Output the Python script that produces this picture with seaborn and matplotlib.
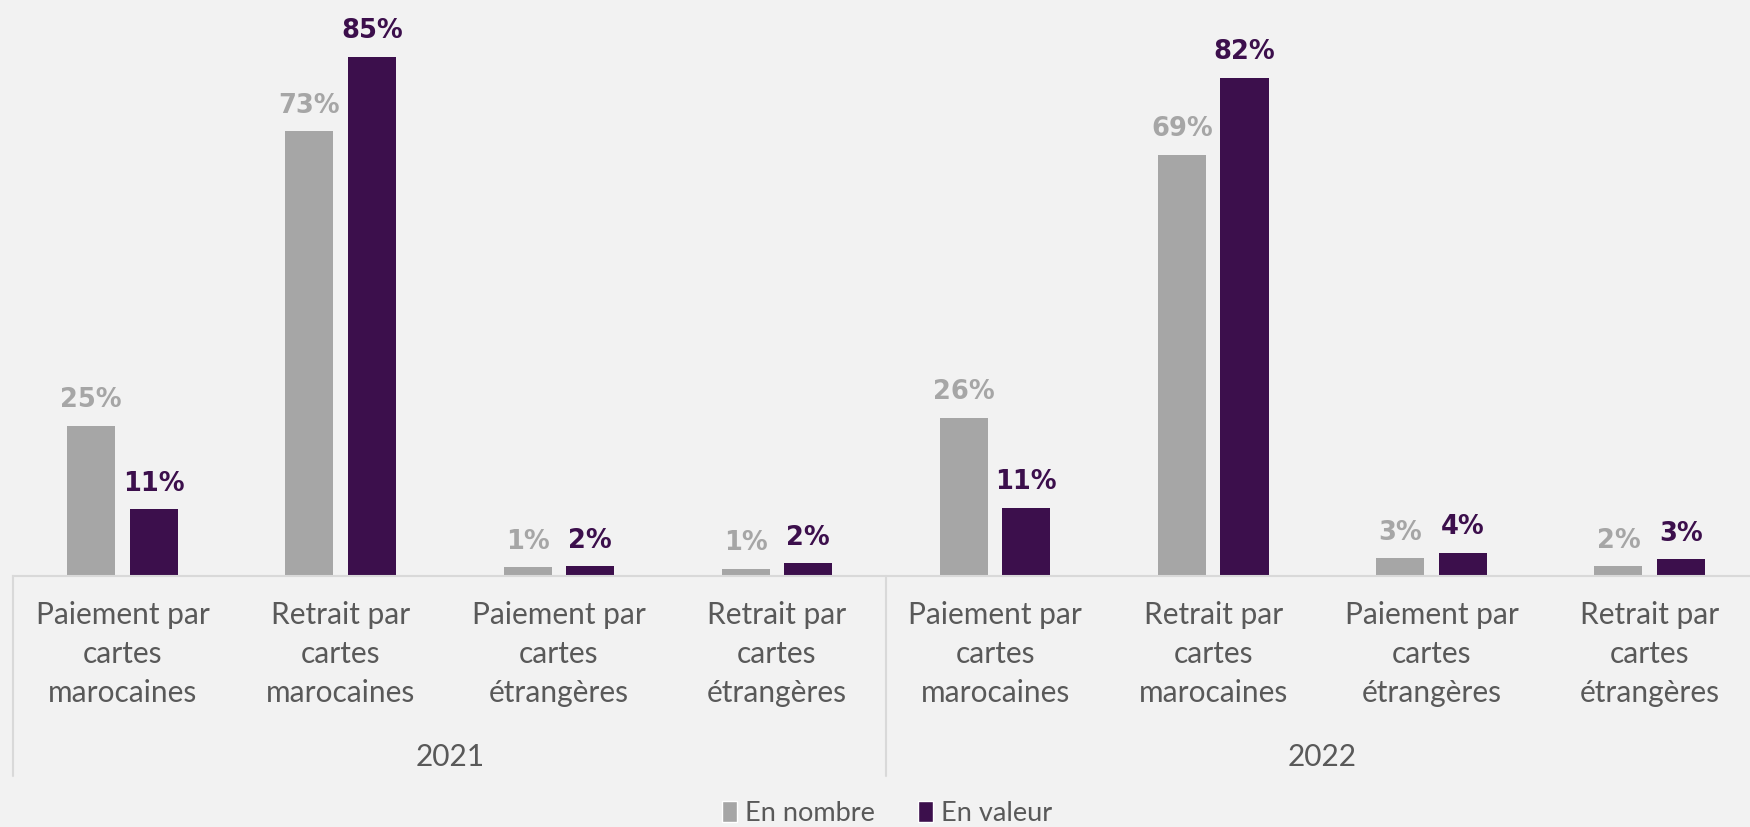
import pandas as pd
import matplotlib.pyplot as plt
import matplotlib.transforms as mtransforms
from matplotlib.lines import Line2D
from matplotlib.patches import Patch
import seaborn as sns

# data
years = ["2021", "2022"]
types = ["Paiement par\ncartes\nmarocaines", "Retrait par\ncartes\nmarocaines",
         "Paiement par\ncartes\nétrangères", "Retrait par\ncartes\nétrangères"]
series = ["En nombre", "En valeur"]
en_nombre = [24.6, 72.8, 1.4, 1.2, 25.9, 69.0, 2.9, 1.6]
en_valeur = [10.9, 85.0, 1.6, 2.1, 11.2, 81.6, 3.8, 2.7]

colors = {"En nombre": "#a6a6a6", "En valeur": "#3c0f4c"}
bg = "#f2f2f2"
text_col = "#595959"
line_col = "#d9d9d9"

keys = [y + " " + t for y in years for t in types]
df = pd.DataFrame({
    "key": keys * 2,
    "serie": [series[0]] * len(keys) + [series[1]] * len(keys),
    "value": en_nombre + en_valeur,
})

sns.set_theme(style="white")
plt.rcParams["font.family"] = ["Lato", "DejaVu Sans"]

fig = plt.figure(figsize=(17.5, 8.27), dpi=100, facecolor=bg)
ax = fig.add_axes([0.00765, 0.3036, 0.99235, 0.6964])
ax.set_facecolor(bg)

sns.barplot(data=df, x="key", y="value", hue="serie", order=keys,
            hue_order=series, palette=colors, width=0.572, gap=0.23,
            legend=False, ax=ax, saturation=1, linewidth=0)

for cont, s in zip(ax.containers, series):
    ax.bar_label(cont, labels=[f"{v:.0f}%" for v in cont.datavalues],
                 padding=9, color=colors[s], fontsize=18.5, fontweight="bold",
                 family="DejaVu Sans")

ax.set_xlim(-0.5, 7.46)
ax.set_ylim(0, 94.3)
ax.set_xlabel("")
ax.set_ylabel("")
ax.set_yticks([])
ax.set_xticks(range(len(keys)))
ax.set_xticklabels(types * len(years), fontsize=21.5, color=text_col,
                   linespacing=1.47)
ax.tick_params(axis="x", length=0, pad=18)
for side in ["top", "right", "left"]:
    ax.spines[side].set_visible(False)
ax.spines["bottom"].set_color(line_col)
ax.spines["bottom"].set_linewidth(1.5)

# group separators and year labels
tr = mtransforms.blended_transform_factory(ax.transData, fig.transFigure)
for xs in [-0.5, 3.5]:
    fig.add_artist(Line2D([xs, xs], [0.3036, 0.062], transform=tr,
                          color=line_col, lw=1.5))
for i, y in enumerate(years):
    ax.text(i * 4 + 1.5, 0.085, y, transform=tr, ha="center", va="center",
            fontsize=21.5, color=text_col)

handles = [Patch(facecolor=colors[s], label=s) for s in series]
fig.legend(handles=handles, loc="lower center", bbox_to_anchor=(0.507, -0.028),
           ncol=2, frameon=False, fontsize=19.5, handlelength=0.55,
           handleheight=0.8, handletextpad=0.3, columnspacing=1.6,
           labelcolor=text_col)

fig.savefig("out.png", dpi=100, facecolor=bg)
